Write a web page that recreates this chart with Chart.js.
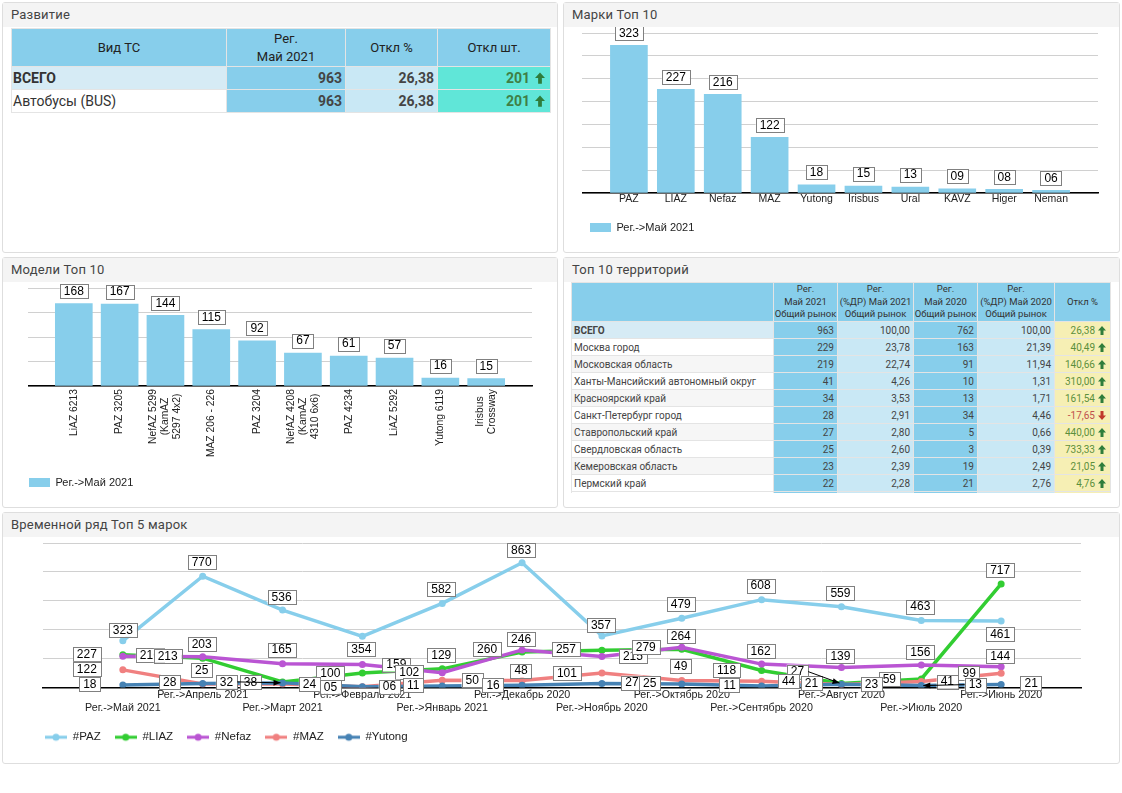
<!DOCTYPE html>
<html lang="ru">
<head>
<meta charset="utf-8">
<title>Развитие</title>
<script src="https://cdn.jsdelivr.net/npm/chart.js@4"></script>
<style>
  html, body { margin: 0; padding: 0; background: #fff; }
  body { width: 1122px; height: 793px; position: relative; overflow: hidden; font-family: Roboto, sans-serif; color: #333; }
  .panel { position: absolute; box-sizing: border-box; border: 1px solid #dedede; border-radius: 3px; background: #fff; }
  .panel h2 { margin: 0; height: 24px; line-height: 24px; padding-left: 8px; background: #f4f4f4; font-size: 13px; font-weight: 400; color: #444; letter-spacing: .2px; }
  canvas { position: absolute; display: block; }
  table { position: absolute; border-collapse: collapse; table-layout: fixed; }
  td, th { border: 1px solid #e4e4e4; overflow: hidden; white-space: nowrap; }
  th { background: #87ceeb; font-weight: 400; color: #222; text-align: center; padding: 0; }
  td.num { text-align: right; }
  td.c1 { background: #87ceeb; }
  td.c2 { background: #c9e8f5; }
  td.c3 { background: #60e6d8; color: #3f7f45; }
  td.c4 { background: #f6efb4; color: #5c8f3c; }
  td.neg { color: #c0504d; }
  tr.total td { font-weight: 700; }
  tr.total td.lead { background: #d6ebf5; }
  svg.arr { vertical-align: -1px; }
  #devTable { left: 11px; top: 28px; width: 539px; font-size: 14px; }
  #devTable th { height: 37px; line-height: 18px; font-size: 13px; }
  #devTable td { height: 21px; padding: 0 3px 1px; }
  #devTable td.lead { padding-left: 1px; }
  #devTable td.num { font-weight: 700; color: #444; }
  #devTable td.c3 { color: #3f7f45; padding-right: 5px; }
  #devTable svg.arr { margin-left: 5px; }
  #terrBox { position: absolute; left: 571px; top: 282px; width: 540px; height: 211px; overflow: hidden; }
  #terrTable { left: 0; top: 0; width: 539px; font-size: 10px; }
  #terrTable th { height: 38px; line-height: 12.6px; font-size: 9.5px; color: #333; }
  #terrTable td { height: 16px; padding: 0 3px; color: #444; }
  #terrTable td.lead { padding-left: 2px; }
  #terrTable td.c4 { color: #5c8f3c; padding-right: 4px; }
  #terrTable td.c4.neg { color: #c0504d; }
  #terrTable svg.arr { margin-left: 3px; }
</style>
</head>
<body>

<div class="panel" style="left:2px;top:2px;width:556px;height:251px"><h2>Развитие</h2></div>
<div class="panel" style="left:563px;top:2px;width:557px;height:251px"><h2>Марки Топ 10</h2></div>
<div class="panel" style="left:2px;top:257px;width:556px;height:251px"><h2>Модели Топ 10</h2></div>
<div class="panel" style="left:563px;top:257px;width:557px;height:251px"><h2>Топ 10 территорий</h2></div>
<div class="panel" style="left:2px;top:512px;width:1118px;height:252px"><h2>Временной ряд Топ 5 марок</h2></div>

<table id="devTable"></table>
<div id="terrBox"><table id="terrTable"></table></div>

<canvas id="chartBrands" width="528" height="216" style="left:582px;top:27px"></canvas>
<canvas id="chartModels" width="520" height="216" style="left:28px;top:282px"></canvas>
<canvas id="chartSeries" width="1074" height="216" style="left:31px;top:537px"></canvas>

<script>
// ─── DATA ─────────────────────────────────────────────
const devKinds   = ['ВСЕГО', 'Автобусы (BUS)'];
const devRegs    = ['963', '963'];
const devPct     = ['26,38', '26,38'];
const devUnits   = ['201', '201'];

const terrNames  = ['ВСЕГО', 'Москва город', 'Московская область', 'Ханты-Мансийский автономный округ', 'Красноярский край',
                    'Санкт-Петербург город', 'Ставропольский край', 'Свердловская область', 'Кемеровская область', 'Пермский край'];
const terrReg21  = ['963', '229', '219', '41', '34', '28', '27', '25', '23', '22'];
const terrDr21   = ['100,00', '23,78', '22,74', '4,26', '3,53', '2,91', '2,80', '2,60', '2,39', '2,28'];
const terrReg20  = ['762', '163', '91', '10', '13', '34', '5', '3', '19', '21'];
const terrDr20   = ['100,00', '21,39', '11,94', '1,31', '1,71', '4,46', '0,66', '0,39', '2,49', '2,76'];
const terrDev    = ['26,38', '40,49', '140,66', '310,00', '161,54', '-17,65', '440,00', '733,33', '21,05', '4,76'];

const brandNames  = ['PAZ', 'LIAZ', 'Nefaz', 'MAZ', 'Yutong', 'Irisbus', 'Ural', 'KAVZ', 'Higer', 'Neman'];
const brandValues = [323, 227, 216, 122, 18, 15, 13, 9, 8, 6];

const modelNames  = [['LiAZ 6213'], ['PAZ 3205'], ['NefAZ 5299', '(KamAZ', '5297 4x2)'], ['MAZ 206 - 226'], ['PAZ 3204'],
                     ['NefAZ 4208', '(KamAZ', '4310 6x6)'], ['PAZ 4234'], ['LiAZ 5292'], ['Yutong 6119'], ['Irisbus', 'Crossway']];
const modelValues = [168, 167, 144, 115, 92, 67, 61, 57, 16, 15];

const months = ['Май 2021', 'Апрель 2021', 'Март 2021', 'Февраль 2021', 'Январь 2021', 'Декабрь 2020',
                'Ноябрь 2020', 'Октябрь 2020', 'Сентябрь 2020', 'Август 2020', 'Июль 2020', 'Июнь 2020'];
const seriesNames = ['#PAZ', '#LIAZ', '#Nefaz', '#MAZ', '#Yutong'];
const paz    = [323, 770, 536, 354, 582, 863, 357, 479, 608, 559, 463, 461];
const liaz   = [227, 203, 38, 100, 129, 246, 257, 264, 118, 27, 59, 717];
const nefaz  = [216, 213, 165, 159, 102, 260, 215, 279, 162, 139, 156, 144];
const maz    = [122, 25, 24, 6, 50, 48, 101, 49, 44, 21, 41, 99];
const yutong = [18, 28, 32, 5, 11, 16, 27, 25, 11, 23, 13, 21];

// ─── STYLE ────────────────────────────────────────────
const SKY = '#87ceeb';
const seriesColors = [SKY, '#32cd32', '#ba55d3', '#f08080', '#4682b4'];
const LABEL_FONT = '"Liberation Sans", Arial, sans-serif';

// Сдвиг подписей относительно точки (dx, dy)
const labelShift = [
  [[0,-11],[-1,-14],[-1,-13],[-1,13],[-1,-14],[-1,-13],[-1,-11],[-1,-14],[-1,-14],[-1,-14],[-1,-14],[-1,13]],
  [[-36,-1],[-1,-14],[-32,0],[-32,0],[-1,-14],[-1,-13],[-36,-1],[-1,-13],[-35,0],[-44,-12],[-32,0],[-1,-14]],
  [[27,-1],[-35,-1],[-1,-14],[34,0],[-33,-1],[-35,-1],[31,0],[-36,0],[-1,-13],[-1,-11],[-1,-13],[-1,-11]],
  [[-36,-1],[-1,-14],[27,0],[27,0],[30,0],[-1,-10],[-35,0],[-1,-14],[27,0],[-30,-1],[26,0],[-32,0]],
  [[-33,-1],[-33,-1],[-56,-1],[-32,0],[-29,-1],[-29,0],[30,-1],[-32,-1],[-32,-1],[30,0],[54,-1],[30,-1]],
];
// Стрелки-выноски: серия, точка
const leaders = [[4, 2], [1, 9], [4, 10]];

// ─── TABLES ───────────────────────────────────────────
const arrow = (down, w, h) => down
  ? `<svg class="arr" width="${w}" height="${h}" viewBox="0 0 8 9"><path d="M4 9 0 4.5h2.5V0h3v4.5H8z" fill="#c0392b"/></svg>`
  : `<svg class="arr" width="${w}" height="${h}" viewBox="0 0 8 9"><path d="M4 0 8 4.5H5.5V9h-3V4.5H0z" fill="#2f7d3b"/></svg>`;

document.getElementById('devTable').innerHTML =
  '<colgroup><col style="width:215px"><col style="width:119px"><col style="width:92px"><col style="width:113px"></colgroup>' +
  '<tr><th>Вид ТС</th><th>Рег.<br>Май 2021</th><th>Откл %</th><th>Откл шт.</th></tr>' +
  devKinds.map((k, i) =>
    `<tr class="${i === 0 ? 'total' : ''}"><td class="lead">${k}</td><td class="num c1">${devRegs[i]}</td>` +
    `<td class="num c2">${devPct[i]}</td><td class="num c3">${devUnits[i]}${arrow(false, 10, 12)}</td></tr>`).join('');

document.getElementById('terrTable').innerHTML =
  '<colgroup><col style="width:202px"><col style="width:64px"><col style="width:76px"><col style="width:64px"><col style="width:77px"><col style="width:56px"></colgroup>' +
  '<tr><th></th><th>Рег.<br>Май 2021<br>Общий рынок</th><th>Рег.<br>(%ДР) Май 2021<br>Общий рынок</th>' +
  '<th>Рег.<br>Май 2020<br>Общий рынок</th><th>Рег.<br>(%ДР) Май 2020<br>Общий рынок</th><th>Откл %</th></tr>' +
  terrNames.map((n, i) => {
    const neg = terrDev[i].startsWith('-');
    const lead = i === 0 ? '' : (i % 2 ? 'background:#fff' : 'background:#f6f6f6');
    return `<tr class="${i === 0 ? 'total' : ''}"><td class="lead" style="${lead}">${n}</td>` +
      `<td class="num c1" style="font-weight:400">${terrReg21[i]}</td><td class="num c2" style="font-weight:400">${terrDr21[i]}</td>` +
      `<td class="num c1" style="font-weight:400">${terrReg20[i]}</td><td class="num c2" style="font-weight:400">${terrDr20[i]}</td>` +
      `<td class="num c4${neg ? ' neg' : ''}" style="font-weight:400">${terrDev[i]}${arrow(neg, 8, 9)}</td></tr>`;
  }).join('') +
  '<tr><td></td><td class="c1"></td><td class="c2"></td><td class="c1"></td><td class="c2"></td><td class="c4"></td></tr>';

// ─── CHART HELPERS ────────────────────────────────────
const pad = (arr, blank) => [blank, ...arr, blank];

function drawBox(ctx, text, cx, cy) {
  const w = ctx.measureText(text).width + 8;
  const h = 14;
  ctx.fillStyle = '#fff';
  ctx.fillRect(cx - w / 2, cy - h / 2, w, h);
  ctx.strokeStyle = '#808080';
  ctx.lineWidth = 1;
  ctx.strokeRect(Math.round(cx - w / 2) + .5, Math.round(cy - h / 2) + .5, Math.round(w), h);
  ctx.fillStyle = '#000';
  ctx.fillText(text, cx, cy + .5);
}

// Подписи столбцов в рамках
const barLabels = {
  id: 'barLabels',
  afterDatasetsDraw(chart) {
    const ctx = chart.ctx;
    ctx.save();
    ctx.font = '12px ' + LABEL_FONT;
    ctx.textAlign = 'center';
    ctx.textBaseline = 'middle';
    chart.getDatasetMeta(0).data.forEach((el, i) => {
      const v = chart.data.datasets[0].data[i];
      if (v == null) return;
      drawBox(ctx, String(v).padStart(2, '0'), el.x, el.y - 12.5);
    });
    ctx.restore();
  },
};

// Повёрнутые подписи оси: строки выровнены по центру
const rotatedTicks = {
  id: 'rotatedTicks',
  afterDraw(chart) {
    const ctx = chart.ctx, scale = chart.scales.x;
    ctx.save();
    ctx.font = '10.3px ' + LABEL_FONT;
    ctx.fillStyle = '#222';
    ctx.textAlign = 'center';
    ctx.textBaseline = 'middle';
    chart.data.labels.forEach((lines, i) => {
      if (!lines) return;
      const widest = Math.max(...lines.map(l => ctx.measureText(l).width));
      ctx.save();
      ctx.translate(scale.getPixelForTick(i), scale.top + 3);
      ctx.rotate(-Math.PI / 2);
      lines.forEach((l, k) => ctx.fillText(l, -widest / 2, (k - (lines.length - 1) / 2) * 12));
      ctx.restore();
    });
    ctx.restore();
  },
};

// Подписи линий и стрелки-выноски
const lineLabels = {
  id: 'lineLabels',
  afterDatasetsDraw(chart) {
    const ctx = chart.ctx;
    ctx.save();
    ctx.font = '12px ' + LABEL_FONT;
    ctx.textAlign = 'center';
    ctx.textBaseline = 'middle';
    labelShift.forEach((shifts, s) => {
      const pts = chart.getDatasetMeta(s).data;
      shifts.forEach(([dx, dy], i) => {
        const v = chart.data.datasets[s].data[i + 1];
        drawBox(ctx, String(v).padStart(2, '0'), pts[i + 1].x + dx, pts[i + 1].y + dy);
      });
    });
    leaders.forEach(([s, i]) => {
      const p = chart.getDatasetMeta(s).data[i + 1];
      const [dx, dy] = labelShift[s][i];
      const half = ctx.measureText(String(chart.data.datasets[s].data[i + 1])).width / 2 + 4;
      const x0 = p.x + dx + Math.sign(-dx) * half, y0 = p.y + dy;
      const ang = Math.atan2(-dy, -dx);
      ctx.save();
      ctx.strokeStyle = '#000';
      ctx.lineWidth = 1;
      ctx.beginPath();
      ctx.moveTo(x0, y0);
      ctx.lineTo(p.x - Math.cos(ang) * 2, p.y - Math.sin(ang) * 2);
      ctx.stroke();
      ctx.fillStyle = '#000';
      ctx.translate(p.x - Math.cos(ang) * 2, p.y - Math.sin(ang) * 2);
      ctx.rotate(ang);
      ctx.beginPath();
      ctx.moveTo(0, 0);
      ctx.lineTo(-7, -3);
      ctx.lineTo(-7, 3);
      ctx.fill();
      ctx.restore();
    });
    ctx.restore();
  },
};

function axes(yMax, yStep, xTicks, xHeight, yWidth) {
  return {
    x: {
      offset: false,
      grid: { display: false, drawTicks: false, tickLength: 0 },
      border: { color: '#000', width: 1.5 },
      ticks: Object.assign({ autoSkip: false, padding: 1, color: '#222', font: { family: LABEL_FONT, size: 10.5 } }, xTicks),
      afterFit(scale) { scale.height = xHeight; },
    },
    y: {
      min: 0, max: yMax,
      border: { display: false },
      grid: { color: '#d0d0d0', lineWidth: 1, drawTicks: false },
      ticks: { display: false, stepSize: yStep },
      afterFit(scale) { scale.width = yWidth; },
    },
  };
}

function barChart(id, names, values, yMax, yStep, xTicks, xHeight, padRight, legendPad, extra) {
  return new Chart(document.getElementById(id), {
    type: 'bar',
    data: {
      labels: pad(names, ''),
      datasets: [{ label: 'Рег.->Май 2021', data: pad(values, null), backgroundColor: SKY, barThickness: 37 }],
    },
    options: {
      responsive: false,
      animation: false,
      layout: { padding: { top: 6, right: padRight } },
      scales: axes(yMax, yStep, xTicks, xHeight, 0),
      plugins: {
        tooltip: { enabled: false },
        legend: {
          position: 'bottom', align: 'start',
          labels: { boxWidth: 21, boxHeight: 9, padding: legendPad, color: '#222', font: { family: LABEL_FONT, size: 11 } },
        },
      },
    },
    plugins: [barLabels, ...extra],
  });
}

// ─── CHARTS ───────────────────────────────────────────
barChart('chartBrands', brandNames, brandValues, 350, 50, { maxRotation: 0, padding: 0 }, 21, 12, 8, []);
barChart('chartModels', modelNames, modelValues, 200, 50, { display: false }, 90, 16, 1, [rotatedTicks]);

const legendMark = (color) => {
  const c = document.createElement('canvas');
  c.width = 22; c.height = 10;
  const g = c.getContext('2d');
  g.fillStyle = color;
  g.fillRect(0, 3.5, 22, 3);
  g.beginPath();
  g.arc(11, 5, 3.5, 0, Math.PI * 2);
  g.fill();
  return c;
};

const seriesData = [paz, liaz, nefaz, maz, yutong];

new Chart(document.getElementById('chartSeries'), {
  type: 'line',
  data: {
    labels: pad(months.map((m, i) => i % 2 ? 'Рег.->' + m : ['', 'Рег.->' + m]), ''),
    datasets: seriesData.map((vals, s) => ({
      label: seriesNames[s],
      data: pad(vals, null),
      borderColor: seriesColors[s],
      backgroundColor: seriesColors[s],
      borderWidth: 3.5,
      pointRadius: 3.5,
      pointBorderWidth: 0,
      tension: 0,
      order: seriesData.length - s,
    })),
  },
  options: {
    responsive: false,
    animation: false,
    layout: { padding: { top: 6, right: 24 } },
    scales: axes(1000, 200, { maxRotation: 0, padding: 1, font: { family: LABEL_FONT, size: 10.7 } }, 30, 12),
    plugins: {
      tooltip: { enabled: false },
      legend: {
        position: 'bottom', align: 'start',
        labels: {
          usePointStyle: true, pointStyleWidth: 22, padding: 14, color: '#222',
          font: { family: LABEL_FONT, size: 11.5 },
          sort: (a, b) => a.datasetIndex - b.datasetIndex,
          generateLabels(chart) {
            return Chart.defaults.plugins.legend.labels.generateLabels(chart).map(item =>
              Object.assign(item, { pointStyle: legendMark(seriesColors[item.datasetIndex]) }));
          },
        },
      },
    },
  },
  plugins: [lineLabels],
});
</script>
</body>
</html>
